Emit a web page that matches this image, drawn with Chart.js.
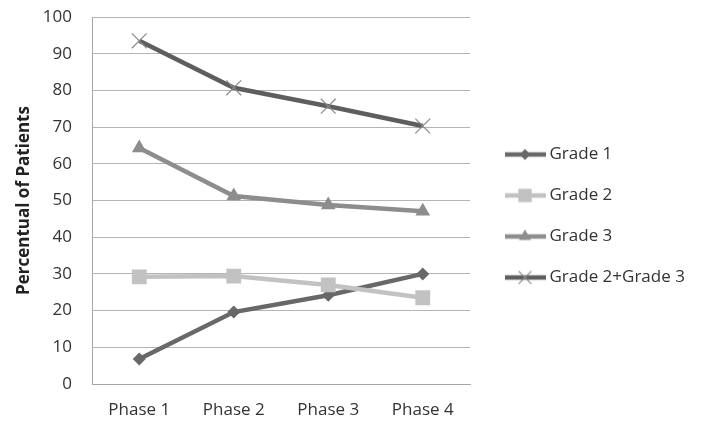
<!DOCTYPE html>
<html><head><meta charset="utf-8">
<script src="https://cdn.jsdelivr.net/npm/chart.js@4/dist/chart.umd.min.js"></script>
<style>html,body{margin:0;padding:0;background:#fff}#wrap{width:703px;height:425px;position:relative}</style>
</head><body><div id="wrap"><canvas id="c" width="703" height="425"></canvas></div>
<script>
const categories = ['Phase 1', 'Phase 2', 'Phase 3', 'Phase 4'];
const seriesNames = ['Grade 1', 'Grade 2', 'Grade 3', 'Grade 2+Grade 3'];
const grade1 = [6.8, 19.6, 24.2, 30.0];
const grade2 = [29.2, 29.4, 27.0, 23.5];
const grade3 = [64.3, 51.2, 48.8, 47.1];
const grade23 = [93.5, 80.7, 75.7, 70.3];
const yTitle = 'Percentual of Patients';

const FONT = "'Open Sans', 'DejaVu Sans', sans-serif";

function drawMarker(ctx, style, x, y, r, fill, stroke, lw) {
  ctx.save();
  ctx.fillStyle = fill; ctx.strokeStyle = stroke; ctx.lineWidth = lw;
  ctx.beginPath();
  if (style === 'rectRot') {
    ctx.moveTo(x - r, y); ctx.lineTo(x, y - r); ctx.lineTo(x + r, y); ctx.lineTo(x, y + r); ctx.closePath();
    ctx.fill();
  } else if (style === 'rect') {
    const s = r * Math.SQRT1_2; ctx.rect(x - s, y - s, 2 * s, 2 * s); ctx.fill();
  } else if (style === 'triangle') {
    let a = 0;
    ctx.moveTo(x + Math.sin(a) * r, y - Math.cos(a) * r);
    a += 2 * Math.PI / 3; ctx.lineTo(x + Math.sin(a) * r, y - Math.cos(a) * r);
    a += 2 * Math.PI / 3; ctx.lineTo(x + Math.sin(a) * r, y - Math.cos(a) * r);
    ctx.closePath(); ctx.fill();
  } else if (style === 'crossRot') {
    const o = r * Math.SQRT1_2;
    ctx.moveTo(x - o, y - o); ctx.lineTo(x + o, y + o);
    ctx.moveTo(x - o, y + o); ctx.lineTo(x + o, y - o);
    ctx.stroke();
  }
  ctx.restore();
}

function legendIcon(ds, legendR) {
  const c = document.createElement('canvas');
  c.width = 57; c.height = 20;
  const ctx = c.getContext('2d');
  ctx.strokeStyle = ds.borderColor; ctx.lineWidth = 4.5;
  ctx.beginPath(); ctx.moveTo(16, 10); ctx.lineTo(57, 10); ctx.stroke();
  drawMarker(ctx, ds.pointStyle, 36, 10, legendR, ds.pointBackgroundColor, ds.pointBorderColor, ds.pointBorderWidth);
  return c;
}

const datasets = [
  { label: seriesNames[0], data: grade1, borderColor: '#686868', pointStyle: 'rectRot', pointRadius: 6.5,
    pointBackgroundColor: '#686868', pointBorderColor: '#686868', pointBorderWidth: 0, order: 4, legendR: 5.5 },
  { label: seriesNames[1], data: grade2, borderColor: '#c2c2c2', pointStyle: 'rect', pointRadius: 10.5,
    pointBackgroundColor: '#c2c2c2', pointBorderColor: '#c2c2c2', pointBorderWidth: 0, order: 3, legendR: 9.5 },
  { label: seriesNames[2], data: grade3, borderColor: '#8d8d8d', pointStyle: 'triangle', pointRadius: 8.5,
    pointBackgroundColor: '#8d8d8d', pointBorderColor: '#8d8d8d', pointBorderWidth: 0, order: 2, legendR: 7 },
  { label: seriesNames[3], data: grade23, borderColor: '#5e5e5e', pointStyle: 'crossRot', pointRadius: 10.5,
    pointBackgroundColor: '#8a8a8a', pointBorderColor: '#8a8a8a', pointBorderWidth: 1.2, order: 1, legendR: 9 }
].map(d => Object.assign({ borderWidth: 4.5, tension: 0, fill: false, pointHoverRadius: d.pointRadius }, d));

const legendWidthPlugin = {
  id: 'legendWidth',
  beforeUpdate(chart) {
    const lg = chart.legend;
    if (lg && !lg._wrappedFit) {
      const f = lg.fit;
      lg.fit = function () {
        f.call(this);
        this.width = 233;
        if (this.columnSizes && this.columnSizes[0]) this.columnSizes[0].height += 10;
      };
      lg._wrappedFit = true;
    }
  }
};

new Chart(document.getElementById('c'), {
  type: 'line',
  data: { labels: categories, datasets: datasets },
  plugins: [legendWidthPlugin],
  options: {
    responsive: false,
    animation: false,
    devicePixelRatio: 1,
    layout: { padding: { top: 17, bottom: 0, left: 0, right: 0 } },
    plugins: {
      tooltip: { enabled: false },
      legend: {
        position: 'right',
        align: 'center',
        labels: {
          usePointStyle: true,
          pointStyleWidth: 47,
          padding: 24,
          color: '#333333',
          font: { family: FONT, size: 17 },
          generateLabels(chart) {
            return chart.data.datasets.map((ds, i) => ({
              text: ds.label,
              fillStyle: ds.borderColor,
              strokeStyle: ds.borderColor,
              lineWidth: 0,
              pointStyle: legendIcon(ds, ds.legendR),
              hidden: false,
              datasetIndex: i,
              fontColor: '#333333'
            }));
          }
        }
      }
    },
    scales: {
      x: {
        offset: true,
        afterFit(scale) { scale.height = 41; scale.paddingLeft = 0; scale.paddingRight = 0; },
        grid: { display: false, drawTicks: false },
        border: { display: true, color: '#a6a6a6', width: 1 },
        ticks: { color: '#333333', font: { family: FONT, size: 17 }, padding: 16 }
      },
      y: {
        min: 0, max: 100,
        afterFit(scale) { scale.width = 92; scale.paddingTop = 0; scale.paddingBottom = 0; },
        grid: { color: '#b4b4b4', lineWidth: 1, drawTicks: false },
        border: { display: true, color: '#a6a6a6', width: 1 },
        ticks: { stepSize: 10, color: '#333333', font: { family: FONT, size: 17 }, padding: 20 },
        title: { display: true, text: yTitle, color: '#222222',
          font: { family: FONT, size: 17, weight: 'bold' }, padding: { top: 14, bottom: 0 } }
      }
    }
  }
});
</script>
</body></html>
